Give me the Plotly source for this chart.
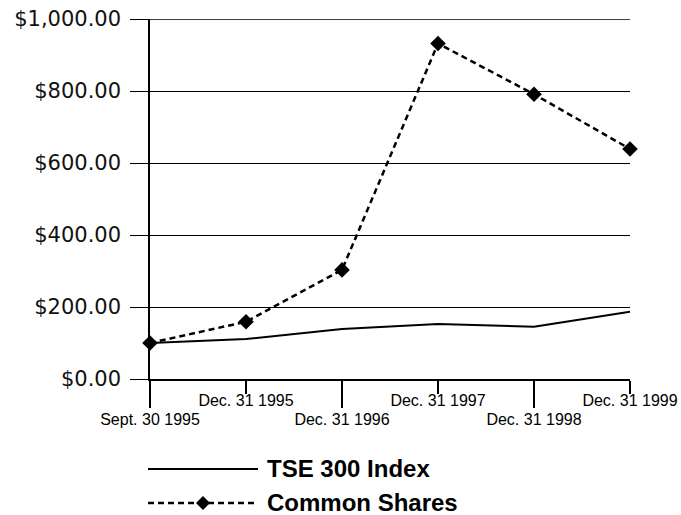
import plotly.graph_objects as go

# ---- data ----
dates = ["Sept. 30 1995", "Dec. 31 1995", "Dec. 31 1996",
         "Dec. 31 1997", "Dec. 31 1998", "Dec. 31 1999"]
tse300 = [100, 111, 139, 153, 145, 187]
common_shares = [100, 159, 303, 932, 791, 639]
y_ticks = [0, 200, 400, 600, 800, 1000]
series_names = ["TSE 300 Index", "Common Shares"]

idx = list(range(len(dates)))

W, H = 681, 515
ML, MT = 150, 19
PW, PH = 480, 360
MR, MB = W - ML - PW, H - MT - PH


def px(x):
    return (x - ML) / PW


def py(y):
    return (MT + PH - y) / PH


fig = go.Figure()
# invisible helper so the second (staggered-label) x axis gets drawn
fig.add_trace(go.Scatter(
    x=idx, y=tse300, xaxis="x2", mode="lines", opacity=0,
    line=dict(width=0), hoverinfo="skip", showlegend=False))
fig.add_trace(go.Scatter(
    x=idx, y=tse300, name=series_names[0], mode="lines",
    line=dict(color="black", width=2), showlegend=False, cliponaxis=False))
fig.add_trace(go.Scatter(
    x=idx, y=common_shares, name=series_names[1], mode="lines+markers",
    line=dict(color="black", width=2.5, dash="6px,4px"),
    marker=dict(symbol="diamond", size=12, color="black"),
    showlegend=False, cliponaxis=False))

xfont = dict(family="Liberation Sans, Arial", size=16, color="black")

fig.update_layout(
    width=W, height=H,
    margin=dict(l=ML, r=MR, t=MT, b=MB),
    paper_bgcolor="white", plot_bgcolor="white",
    xaxis=dict(range=[0, len(dates) - 1], showgrid=False, zeroline=False,
               automargin=False,
               showline=True, linecolor="black", linewidth=1.5,
               tickmode="array", tickvals=idx[1::2], ticktext=dates[1::2],
               ticks="outside", ticklen=13, tickwidth=1.5, tickcolor="black",
               ticklabelstandoff=-7, tickfont=xfont),
    xaxis2=dict(overlaying="x", anchor="y", side="bottom", automargin=False,
                range=[0, len(dates) - 1], showgrid=False, zeroline=False,
                showline=False,
                tickmode="array", tickvals=idx[0::2], ticktext=dates[0::2],
                ticks="outside", ticklen=28, tickwidth=1.5, tickcolor="black",
                ticklabelstandoff=-2, tickfont=xfont),
    yaxis=dict(range=[0, 1000], tickmode="array", tickvals=y_ticks,
               tickformat="$,.2f", automargin=False,
               showgrid=True, gridcolor="black", gridwidth=1.3,
               zeroline=False, showline=True, linecolor="black", linewidth=1.5,
               ticks="outside", ticklen=18, tickwidth=1.3, tickcolor="black",
               ticklabelstandoff=5, ticklabeloverflow="allow",
               tickfont=dict(family="DejaVu Sans", size=21, color="#111")),
    showlegend=False,
)

# top gridline at the highest y tick (plotly drops it at the range edge)
fig.add_shape(type="line", xref="paper", yref="y", x0=0, x1=1,
              y0=max(y_ticks), y1=max(y_ticks),
              line=dict(color="black", width=1.5))

# ---- manual legend ----
leg_y = [469, 503]
x0, x1, xt = 148, 258, 265
fig.add_shape(type="line", xref="paper", yref="paper",
              x0=px(x0), x1=px(x1), y0=py(leg_y[0]), y1=py(leg_y[0]),
              line=dict(color="black", width=2))
fig.add_shape(type="line", xref="paper", yref="paper",
              x0=px(x0), x1=px(x1), y0=py(leg_y[1]), y1=py(leg_y[1]),
              line=dict(color="black", width=2.5, dash="6px,4px"))
cx, cy, r = 203, leg_y[1], 7
fig.add_shape(type="path", xref="paper", yref="paper",
              path=f"M {px(cx - r)} {py(cy)} L {px(cx)} {py(cy - r)} "
                   f"L {px(cx + r)} {py(cy)} L {px(cx)} {py(cy + r)} Z",
              fillcolor="black", line=dict(color="black", width=0))
for name, yy in zip(series_names, leg_y):
    fig.add_annotation(xref="paper", yref="paper", x=px(xt), y=py(yy - 1),
                       text=f"<b>{name}</b>", showarrow=False,
                       xanchor="left", yanchor="middle",
                       font=dict(family="Liberation Sans, Arial", size=24,
                                 color="black"))

fig.write_html(
    "out.html",
    config={"displayModeBar": False},
    post_script="document.body.style.margin='0';"
                "document.body.style.overflow='hidden';")
